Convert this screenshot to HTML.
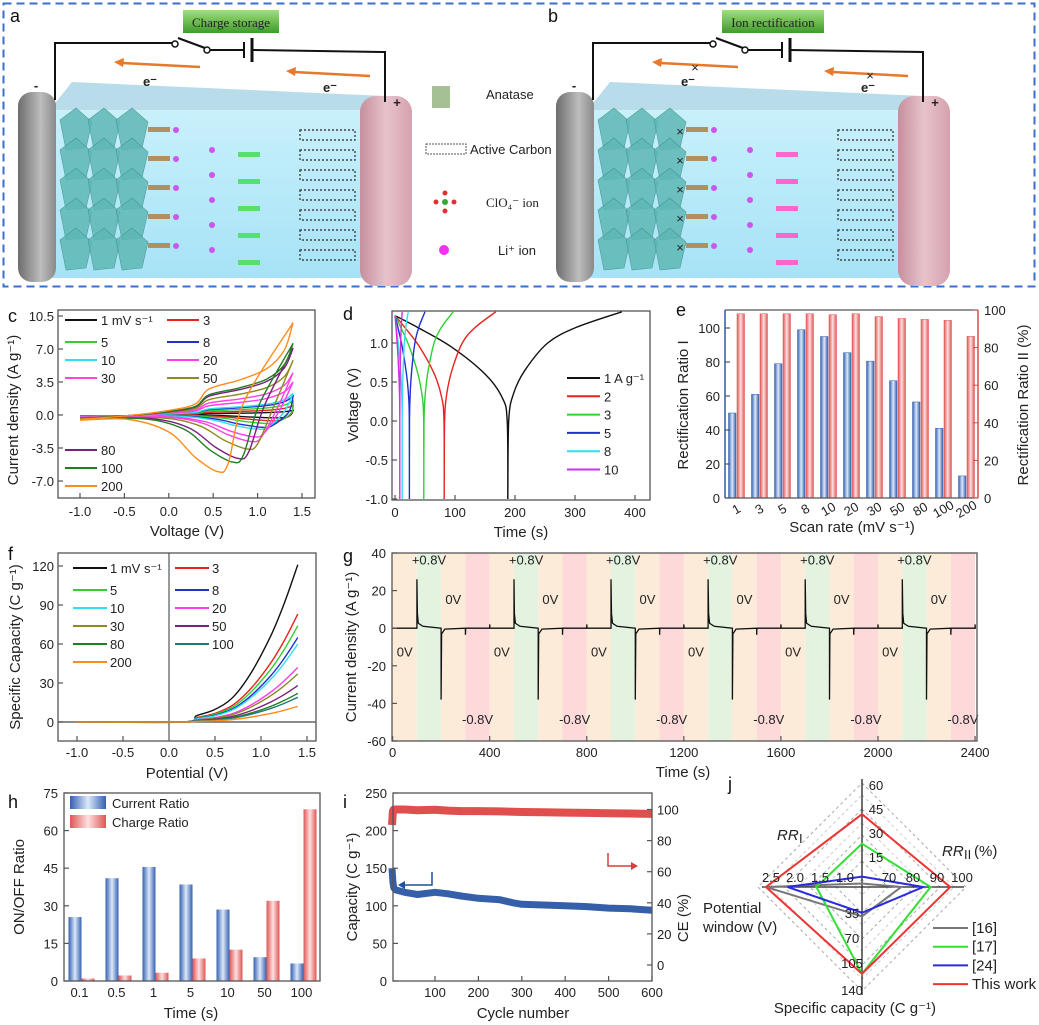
<!DOCTYPE html>
<html><head><meta charset="utf-8"><style>
html,body{margin:0;padding:0;background:#fff}
svg{display:block;font-family:"Liberation Sans",Arial,sans-serif}
.tk{font-size:13px;fill:#222}
.lt{font-size:18px;fill:#111}
.tt{font-size:15px;fill:#222}
</style></head><body>
<svg id="fig" width="1039" height="1025" viewBox="0 0 1039 1025" xmlns="http://www.w3.org/2000/svg">
<defs>
<linearGradient id="gBlue" x1="0" x2="1" y1="0" y2="0"><stop offset="0" stop-color="#3560b0"/><stop offset="0.5" stop-color="#dce8fa"/><stop offset="1" stop-color="#3560b0"/></linearGradient>
<linearGradient id="gRed" x1="0" x2="1" y1="0" y2="0"><stop offset="0" stop-color="#e05555"/><stop offset="0.5" stop-color="#fde0e0"/><stop offset="1" stop-color="#e05555"/></linearGradient>
<linearGradient id="gBody" x1="0" x2="0" y1="0" y2="1"><stop offset="0" stop-color="#c9f0fb"/><stop offset="1" stop-color="#a6e3f6"/></linearGradient>
<linearGradient id="gPink" x1="0" x2="1"><stop offset="0" stop-color="#c58f9c"/><stop offset="0.5" stop-color="#e8c3cc"/><stop offset="1" stop-color="#d4a2ae"/></linearGradient>
<linearGradient id="gGray" x1="0" x2="1"><stop offset="0" stop-color="#6d6d6d"/><stop offset="0.6" stop-color="#bdbdbd"/><stop offset="1" stop-color="#8a8a8a"/></linearGradient>
<linearGradient id="gBtn" x1="0" x2="0" y1="0" y2="1"><stop offset="0" stop-color="#9fe07a"/><stop offset="1" stop-color="#3f9a2c"/></linearGradient>
</defs>
<rect x="3.5" y="3.5" width="1031" height="283" fill="none" stroke="#3a6fd0" stroke-width="2" stroke-dasharray="8,5"/>
<g id="schem"></g>
<g id="pc"></g><g id="pd"></g><g id="pe"></g><g id="pf"></g><g id="pg"></g><g id="ph"></g><g id="pi"></g><g id="pj"></g>
</svg>
<script>
// ---------- data ----------
const cvRates=["1","3","5","8","10","20","30","50","80","100","200"];
const cvColors=["#111","#e8231f","#2fd02f","#1f2fd0","#30dff0","#ff3cf0","#ff44dd","#8b8b22","#7a1f7a","#1f7f1f","#ff8c1a"];
const cvMax=[0.5,1.0,1.5,2.0,2.3,3.5,4.5,5.8,7.1,7.6,9.8];
const cvMin=[-0.3,-0.6,-0.9,-1.3,-1.5,-2.3,-2.8,-3.6,-4.6,-5.0,-6.0];
const cvMinV=[1.2,1.15,1.1,1.05,1.0,0.95,0.92,0.88,0.78,0.72,0.55];
const gcdRates=["1 A g\u207B\u00B9","2","3","5","8","10"];
const gcdColors=["#111","#e8231f","#2fd02f","#1f2fd0","#30dff0","#d030e0"];
const gcdMinT=[188,82,48,24,12,8];
const gcdEndT=[378,168,97,50,22,12];
const rrCats=["1","3","5","8","10","20","30","50","80","100","200"];
const rrI=[50,61,79,99,95,85.5,80.5,69,56.5,41,13];
const rrII=[98,98,98,98,97.5,98,96.5,95.5,95,94.5,86];
const qRates=["1 mV s\u207B\u00B9","3","5","8","10","20","30","50","80","100","200"];
const qColors=["#111","#e8231f","#2fd02f","#1f2fd0","#30dff0","#ff3cf0","#8b8b22","#7a1f7a","#1f7f1f","#1f7a7a","#ff8c1a"];
const qEnd=[121,83,74,65,60,42,37,28,22,19,12];
const cycStart=[0,400,800,1200,1600,2000];
const posPeak=[26,26,26,26,26,26];
const negPeak=[-38,-38,-38,-38,-38,-38];
const hCats=["0.1","0.5","1","5","10","50","100"];
const hCurrent=[25.5,41,45.5,38.5,28.5,9.5,7];
const hCharge=[1,2.2,3.3,9,12.5,32,68.5];
const iCycles=[1,3,5,10,30,60,100,130,160,200,250,280,300,350,400,450,500,550,600];
const iCap=[150,132,124,121,118,115,118,116,113,110,108,104,102,101,100,99,97,96,94];
const iCE=[90,99,100,100,100,99.5,99.8,99.3,99,99,98.8,98.5,98.4,98.2,98,97.8,97.6,97.4,97.2];
const rNames=["[16]","[17]","[24]","This work"];
const rColors=["#777","#33e033","#2a2ae0","#ee3333"];
const rRR1=[2,25,6,42];
const rRR2=[76,88,85,96];
const rCap=[40,118,35,118];
const rPW=[2.5,1.45,2.05,2.5];

const NS="http://www.w3.org/2000/svg";
function mk(tag,parent,a){const e=document.createElementNS(NS,tag);for(const k in a)e.setAttribute(k,a[k]);parent.appendChild(e);return e;}
function tx(parent,x,y,s,cls,anchor,extra){const e=mk("text",parent,Object.assign({x:x,y:y,class:cls||"tk","text-anchor":anchor||"middle"},extra||{}));e.textContent=s;return e;}
function smooth(pts){let d="M"+pts[0][0].toFixed(1)+","+pts[0][1].toFixed(1);for(let i=1;i<pts.length;i++){const p0=pts[Math.max(0,i-2)],p1=pts[i-1],p2=pts[i],p3=pts[Math.min(pts.length-1,i+1)];const c1=[p1[0]+(p2[0]-p0[0])/6,p1[1]+(p2[1]-p0[1])/6],c2=[p2[0]-(p3[0]-p1[0])/6,p2[1]-(p3[1]-p1[1])/6];d+="C"+c1.map(v=>v.toFixed(1))+" "+c2.map(v=>v.toFixed(1))+" "+p2[0].toFixed(1)+","+p2[1].toFixed(1);}return d;}
function frame(g,x0,y0,x1,y1,name){const r=mk("rect",g,{x:x0,y:y0,width:x1-x0,height:y1-y0,fill:"none",stroke:"#555","stroke-width":1.3});}
function tick(g,x1,y1,x2,y2){mk("line",g,{x1:x1,y1:y1,x2:x2,y2:y2,stroke:"#555","stroke-width":1.2});}

// ---------- schematic ----------
(function(){
const s=document.getElementById("schem");
function battery(ox,rect){
 const g=mk("g",s,{transform:"translate("+ox+",0)"});
 
 
 mk("polygon",g,{points:"48,112 72,82 385,96 398,112",fill:"#b9dceb"});
 mk("rect",g,{x:48,y:110,width:352,height:168,fill:"url(#gBody)"});
 mk("rect",g,{x:18,y:92,width:38,height:190,rx:14,fill:"url(#gGray)"});
 mk("rect",g,{x:360,y:96,width:52,height:190,rx:16,fill:"url(#gPink)"});
 for(let r=0;r<5;r++)for(let c=0;c<3;c++)mk("polygon",g,{points:(60+c*28)+","+(120+r*30)+" "+(76+c*28)+","+(108+r*30)+" "+(92+c*28)+","+(122+r*30)+" "+(86+c*28)+","+(148+r*30)+" "+(66+c*28)+","+(150+r*30),fill:"#5fb8b5",opacity:0.85,stroke:"#3e8f8c","stroke-width":0.6});
 for(let r=0;r<7;r++)mk("rect",g,{x:300,y:130+r*20,width:55,height:10,fill:"none",stroke:"#444","stroke-dasharray":"2,2","stroke-width":1.4});
 mk("polyline",g,{points:"55,100 55,43 172,43",fill:"none",stroke:"#111","stroke-width":2});
 mk("circle",g,{cx:175,cy:44,r:3,fill:"#fff",stroke:"#111","stroke-width":1.5});
 mk("line",g,{x1:178,y1:38,x2:205,y2:48,stroke:"#111","stroke-width":2});
 mk("circle",g,{cx:207,cy:50,r:3,fill:"#fff",stroke:"#111","stroke-width":1.5});
 mk("line",g,{x1:210,y1:50,x2:243,y2:50,stroke:"#111","stroke-width":2});
 mk("line",g,{x1:244,y1:42,x2:244,y2:58,stroke:"#111","stroke-width":2});
 mk("line",g,{x1:252,y1:38,x2:252,y2:62,stroke:"#111","stroke-width":3});
 mk("polyline",g,{points:"252,50 385,52 385,102",fill:"none",stroke:"#111","stroke-width":2});
 mk("line",g,{x1:200,y1:67,x2:122,y2:63,stroke:"#e8782a","stroke-width":2.5});
 mk("polygon",g,{points:"114,62 124,58 123,67",fill:"#e8782a"});
 mk("line",g,{x1:370,y1:76,x2:294,y2:72,stroke:"#e8782a","stroke-width":2.5});
 mk("polygon",g,{points:"286,71 296,67 295,76",fill:"#e8782a"});
 if(rect){tx(g,157,72,"\u00D7","tk","middle",{"font-size":"22",fill:"#555"});tx(g,332,80,"\u00D7","tk","middle",{"font-size":"22",fill:"#555"});
  for(let r=0;r<5;r++)tx(g,142,136+r*29,"\u00D7","tk","middle",{"font-size":"14"});}
 tx(g,150,86,"e\u207B","tk","middle",{"font-weight":"bold"});tx(g,330,92,"e\u207B","tk","middle",{"font-weight":"bold"});
 tx(g,36,90,"-","tk","middle",{"font-size":"22","font-weight":"bold"});tx(g,397,107,"+","tk","middle",{"font-size":"18","font-weight":"bold"});
 for(let r=0;r<5;r++){mk("rect",g,{x:148,y:127+r*29,width:22,height:5,fill:"#b09060"});mk("rect",g,{x:238,y:152+r*27,width:22,height:5,fill:rect?"#ff66cc":"#55e070"});
  mk("circle",g,{cx:176,cy:130+r*29,r:3,fill:"#cc55ee"});mk("circle",g,{cx:212,cy:150+r*25,r:3,fill:"#cc55ee"});}
}
battery(0,false);battery(538,true);
tx(s,10,22,"a","lt","start");tx(s,548,22,"b","lt","start");
const b1=mk("rect",s,{x:183,y:10,width:96,height:23,fill:"url(#gBtn)"});
tx(s,231,27,"Charge storage","tk","middle",{fill:"#fff","font-family":"Liberation Serif,serif","font-size":"13"});
const b2=mk("rect",s,{x:722,y:10,width:102,height:23,fill:"url(#gBtn)"});
tx(s,773,27,"Ion rectification","tk","middle",{fill:"#fff","font-family":"Liberation Serif,serif","font-size":"13"});
mk("rect",s,{x:432,y:86,width:18,height:22,fill:"#8fb07a",opacity:0.8});
mk("rect",s,{x:426,y:144,width:40,height:10,fill:"none",stroke:"#555","stroke-dasharray":"2,1"});
mk("circle",s,{cx:445,cy:202,r:3,fill:"#33aa33"});mk("circle",s,{cx:436,cy:202,r:2.5,fill:"#e03030"});mk("circle",s,{cx:454,cy:202,r:2.5,fill:"#e03030"});mk("circle",s,{cx:445,cy:193,r:2.5,fill:"#e03030"});mk("circle",s,{cx:445,cy:211,r:2.5,fill:"#e03030"});
mk("circle",s,{cx:444,cy:250,r:5,fill:"#ee33ee"});
tx(s,486,99,"Anatase","tk","start");tx(s,470,154,"Active Carbon","tk","start");
tx(s,486,207,"ClO\u2084\u207B  ion","tk","start",{"font-family":"Liberation Serif,serif"});tx(s,498,255,"Li\u207A ion","tk","start");
})();

// ---------- c: CV ----------
(function(){
const g=document.getElementById("pc");
const X=v=>80+(v+1)*88.8, Y=i=>415-i*9.43;
frame(g,58,310,315,498,"cv-plot-frame");
[-1,-0.5,0,0.5,1,1.5].forEach(v=>{tick(g,X(v),498,X(v),493);tx(g,X(v),516,v.toFixed(1));});
[-7,-3.5,0,3.5,7,10.5].forEach(v=>{tick(g,58,Y(v),63,Y(v));tx(g,54,Y(v)+5,v.toFixed(1),"tk","end");});
tx(g,8,322,"c","lt","start");
tx(g,187,536,"Voltage (V)","tt");
tx(g,0,0,"Current density (A g\u207B\u00B9)","tt","middle",{transform:"translate(18,410) rotate(-90)"});
cvRates.forEach((r,k)=>{
 const M=cvMax[k],m=cvMin[k],mv=cvMinV[k];
 const an=[[-1,-0.4*Math.abs(m)/6-0.05],[-0.5,-0.1],[0,0.05*M],[0.3,0.12*M],[0.45,0.28*M],[0.8,0.38*M],[1.1,0.5*M],[1.3,0.7*M],[1.4,M]];
 const ca=[[1.4,M],[Math.min(1.38,mv+0.3),0.15*M],[mv+0.12,0.85*m],[mv,m],[mv-0.25,0.75*m],[mv-0.55,0.3*m],[Math.max(-0.9,mv-1),0.08*m],[-1,-0.4*Math.abs(m)/6-0.15]];
 const p=mk("path",g,{d:smooth(an.map(q=>[X(q[0]),Y(q[1])]))+smooth(ca.map(q=>[X(q[0]),Y(q[1])])).replace("M","L"),fill:"none",stroke:cvColors[k],"stroke-width":1.4});
 
 
});
const rows=[[0,65,320],[1,167,320],[2,65,342],[3,167,342],[4,65,360],[5,167,360],[6,65,378],[7,167,378],[8,65,450],[9,65,468],[10,65,486]];
rows.forEach(([k,x,y])=>{mk("line",g,{x1:x,y1:y,x2:x+32,y2:y,stroke:cvColors[k],"stroke-width":2});
 const t=tx(g,x+36,y+5,k==0?"1 mV s\u207B\u00B9":cvRates[k],"tk","start");});
})();

// ---------- d: GCD ----------
(function(){
const g=document.getElementById("pd");
const X=t=>395+t*0.6, Y=v=>421-v*78;
frame(g,392,311,650,500,"gcd-plot-frame");
[0,100,200,300,400].forEach(v=>{tick(g,X(v),500,X(v),495);tx(g,X(v),517,String(v));});
[-1,-0.5,0,0.5,1].forEach(v=>{tick(g,392,Y(v),397,Y(v));tx(g,388,Y(v)+5,v.toFixed(1),"tk","end");});
tx(g,343,320,"d","lt","start");
tx(g,521,537,"Time (s)","tt");
tx(g,0,0,"Voltage (V)","tt","middle",{transform:"translate(358,405) rotate(-90)"});
const dis=[[0,1.35],[0.2,1.2],[0.5,0.95],[0.8,0.6],[0.95,0.3],[0.995,0],[1,-1]];
const chg=[[0,-1],[0.008,0],[0.05,0.35],[0.15,0.65],[0.35,1.0],[0.6,1.2],[1,1.4]];
gcdRates.forEach((r,k)=>{
 const a=gcdMinT[k],b=gcdEndT[k];
 const p1=dis.map(q=>[X(q[0]*a),Y(q[1])]),p2=chg.map(q=>[X(a+q[0]*(b-a)),Y(q[1])]);
 const p=mk("path",g,{d:smooth(p1)+smooth(p2).replace("M","L"),fill:"none",stroke:gcdColors[k],"stroke-width":1.4});
 
 
 mk("line",g,{x1:567,y1:378+k*18.3,x2:600,y2:378+k*18.3,stroke:gcdColors[k],"stroke-width":2});
 tx(g,604,383+k*18.3,r,"tk","start");
});
})();

// ---------- e: rectification ----------
(function(){
const g=document.getElementById("pe");
const YL=v=>498-v*1.7, YR=p=>498-p*1.88, C=i=>736.5+i*23;
rrCats.forEach((c,i)=>{
 const b=mk("rect",g,{x:C(i)-8,y:YL(rrI[i]),width:7.5,height:498-YL(rrI[i]),fill:"url(#gBlue)",stroke:"#3560b0","stroke-width":0.5});
 
 
 const r=mk("rect",g,{x:C(i)+0.5,y:YR(rrII[i]),width:7.5,height:498-YR(rrII[i]),fill:"url(#gRed)",stroke:"#e05555","stroke-width":0.5});
 
 
 tx(g,0,0,c,"tk","middle",{transform:"translate("+(C(i)+2)+",513) rotate(-30)"});
});
mk("line",g,{x1:725,y1:310,x2:978,y2:310,stroke:"#555","stroke-width":1.3});
mk("line",g,{x1:725,y1:498,x2:978,y2:498,stroke:"#555","stroke-width":1.3});
mk("line",g,{x1:725,y1:310,x2:725,y2:498,stroke:"#2d5ca8","stroke-width":1.5});
mk("line",g,{x1:978,y1:310,x2:978,y2:498,stroke:"#e04848","stroke-width":1.5});
[0,20,40,60,80,100].forEach(v=>{tick(g,725,YL(v),730,YL(v));tx(g,720,YL(v)+5,String(v),"tk","end",{fill:"#2d5ca8"});
 mk("line",g,{x1:973,y1:YR(v),x2:978,y2:YR(v),stroke:"#e04848"});tx(g,984,YR(v)+5,String(v),"tk","start",{fill:"#e04848"});});
tx(g,676,316,"e","lt","start");
tx(g,852,532,"Scan rate (mV s\u207B\u00B9)","tt");
tx(g,0,0,"Rectification Ratio I","tt","middle",{transform:"translate(688,405) rotate(-90)",fill:"#2d5ca8"});
tx(g,0,0,"Rectification Ratio II (%)","tt","middle",{transform:"translate(1028,405) rotate(-90)",fill:"#e04848"});
})();

// ---------- f: capacity ----------
(function(){
const g=document.getElementById("pf");
const X=v=>169+v*92, Y=q=>722-q*1.3;
frame(g,58,553,316,741,"capacity-plot-frame");
mk("line",g,{x1:X(0),y1:553,x2:X(0),y2:741,stroke:"#333"});
mk("line",g,{x1:58,y1:Y(0),x2:316,y2:Y(0),stroke:"#666","stroke-width":1.5});
[-1,-0.5,0,0.5,1,1.5].forEach(v=>{tick(g,X(v),741,X(v),736);tx(g,X(v),757,v.toFixed(1));});
[0,30,60,90,120].forEach(v=>{tick(g,58,Y(v),63,Y(v));tx(g,54,Y(v)+5,String(v),"tk","end");});
tx(g,8,560,"f","lt","start");
tx(g,187,778,"Potential (V)","tt");
tx(g,0,0,"Specific Capacity (C g\u207B\u00B9)","tt","middle",{transform:"translate(20,647) rotate(-90)"});
const shp=[[-1,0],[0.15,0],[0.3,0.04],[0.5,0.08],[0.7,0.16],[0.9,0.32],[1.1,0.54],[1.25,0.75],[1.4,1]];
qRates.forEach((r,k)=>{
 const p=mk("path",g,{d:smooth(shp.map(q=>[X(q[0]),Y(q[1]*qEnd[k])])),fill:"none",stroke:qColors[k],"stroke-width":1.4});
 
 
});
const rows=[[0,73,568],[1,175,568],[2,73,590],[3,175,590],[4,73,608],[5,175,608],[6,73,626],[7,175,626],[8,73,644],[9,175,644],[10,73,662]];
rows.forEach(([k,x,y])=>{mk("line",g,{x1:x,y1:y,x2:x+34,y2:y,stroke:qColors[k],"stroke-width":2});tx(g,x+37,y+5,qRates[k],"tk","start");});
})();

// ---------- g: pulses ----------
(function(){
const g=document.getElementById("pg");
const X=t=>392.6+t*0.2427, Y=c=>553+(40-c)*1.88;
const phaseCol=["#fdebd9","#e3f3df","#fdebd9","#fdd9da"];
cycStart.forEach(t0=>{[0,100,200,300].forEach((o,j)=>{mk("rect",g,{x:X(t0+o),y:553,width:X(100)-X(0),height:188,fill:phaseCol[j]});});});
let pts=[[X(0),Y(0)]];
cycStart.forEach((t0,k)=>{
 pts.push([X(t0+100),Y(0)],[X(t0+100),Y(posPeak[k])],[X(t0+102),Y(posPeak[k]*0.3)],[X(t0+106),Y(posPeak[k]*0.1)],[X(t0+125),Y(1)],[X(t0+200),Y(0)]);
 pts.push([X(t0+200),Y(negPeak[k])],[X(t0+202),Y(negPeak[k]*0.08)],[X(t0+215),Y(-0.5)],[X(t0+300),Y(0)],[X(t0+300),Y(-3.5)],[X(t0+301),Y(0)],[X(t0+400),Y(0)],[X(t0+400),Y(2)],[X(t0+401),Y(0)]);
});
pts.push([X(2400),Y(0)]);
const ln=mk("polyline",g,{points:pts.map(p=>p[0].toFixed(1)+","+p[1].toFixed(1)).join(" "),fill:"none",stroke:"#111","stroke-width":1.3});


cycStart.forEach(t0=>{
 tx(g,X(t0+150),Y(34),"+0.8V","tk","middle",{fill:"#1f8f1f","font-size":"14"});
 tx(g,X(t0+250),Y(13),"0V","tk","middle",{"font-size":"14"});
 tx(g,X(t0+50),Y(-15),"0V","tk","middle",{"font-size":"14"});
 tx(g,X(t0+350),Y(-51),"-0.8V","tk","middle",{fill:"#e04848","font-size":"14"});
});
frame(g,392,553,977,741,"pulse-plot-frame");
[0,400,800,1200,1600,2000,2400].forEach(v=>{tick(g,X(v),741,X(v),736);tx(g,X(v),757,String(v));});
[40,20,0,-20,-40,-60].forEach(v=>{tick(g,392,Y(v),397,Y(v));tx(g,386,Y(v)+5,String(v),"tk","end");});
tx(g,343,562,"g","lt","start");
tx(g,683,777,"Time (s)","tt");
tx(g,0,0,"Current density (A g\u207B\u00B9)","tt","middle",{transform:"translate(356,647) rotate(-90)"});
})();

// ---------- h: on/off ----------
(function(){
const g=document.getElementById("ph");
const Y=v=>981-v*2.507, C=i=>81.5+i*37;
hCats.forEach((c,i)=>{
 const b=mk("rect",g,{x:C(i)-13,y:Y(hCurrent[i]),width:13,height:981-Y(hCurrent[i]),fill:"url(#gBlue)"});
 
 
 const r=mk("rect",g,{x:C(i),y:Y(hCharge[i]),width:13,height:981-Y(hCharge[i]),fill:"url(#gRed)"});
 
 
 tx(g,C(i)-2,997,c);
});
frame(g,64,793,320,981,"onoff-plot-frame");
[0,15,30,45,60,75].forEach(v=>{tick(g,64,Y(v),69,Y(v));tx(g,58,Y(v)+5,String(v),"tk","end");});
tx(g,8,808,"h","lt","start");
tx(g,191,1018,"Time (s)","tt");
tx(g,0,0,"ON/OFF Ratio","tt","middle",{transform:"translate(24,887) rotate(-90)"});
mk("rect",g,{x:70,y:796,width:36,height:13,fill:"url(#gBlue)"});tx(g,112,808,"Current Ratio","tk","start");
mk("rect",g,{x:70,y:815,width:36,height:13,fill:"url(#gRed)"});tx(g,112,827,"Charge Ratio","tk","start");
})();

// ---------- i: cycling ----------
(function(){
const g=document.getElementById("pi");
const X=c=>391.6+c*0.434, YL=v=>981-v*0.752, YR=p=>965-p*1.555;
const cap=mk("polyline",g,{points:iCycles.map((c,k)=>X(c).toFixed(1)+","+YL(iCap[k]).toFixed(1)).join(" "),fill:"none",stroke:"#1f4fa0","stroke-width":7,"stroke-linejoin":"round",opacity:0.9});


const ce=mk("polyline",g,{points:iCycles.map((c,k)=>X(c).toFixed(1)+","+YR(iCE[k]).toFixed(1)).join(" "),fill:"none",stroke:"#dd3b3b","stroke-width":8,"stroke-linejoin":"round",opacity:0.9});


frame(g,393,793,652,981,"cycling-plot-frame");
[100,200,300,400,500,600].forEach(v=>{tick(g,X(v),981,X(v),976);tx(g,X(v),997,String(v));});
[0,50,100,150,200,250].forEach(v=>{tick(g,393,YL(v),398,YL(v));tx(g,387,YL(v)+5,String(v),"tk","end");});
[0,20,40,60,80,100].forEach(v=>{tick(g,647,YR(v),652,YR(v));tx(g,657,YR(v)+5,String(v),"tk","start");});
mk("polyline",g,{points:"432,872 432,885 400,885",fill:"none",stroke:"#1f4fa0","stroke-width":1.5});mk("polygon",g,{points:"398,885 405,881 405,889",fill:"#1f4fa0"});
mk("polyline",g,{points:"608,853 608,866 635,866",fill:"none",stroke:"#dd3b3b","stroke-width":1.5});mk("polygon",g,{points:"638,866 631,862 631,870",fill:"#dd3b3b"});
tx(g,343,808,"i","lt","start");
tx(g,523,1018,"Cycle number","tt");
tx(g,0,0,"Capacity (C g\u207B\u00B9)","tt","middle",{transform:"translate(357,887) rotate(-90)"});
tx(g,0,0,"CE (%)","tt","middle",{transform:"translate(688,918) rotate(-90)"});
})();

// ---------- j: radar ----------
(function(){
const g=document.getElementById("pj");
const cx=862,cy=887;
const up=v=>v/60*104, rt=v=>(v-60)/40*98, dn=v=>v/140*103, lf=v=>(v-0.5)/2*96;
[26,52,78,104].forEach(r=>{mk("polygon",g,{points:cx+","+(cy-r)+" "+(cx+r)+","+cy+" "+cx+","+(cy+r)+" "+(cx-r)+","+cy,fill:"none",stroke:"#aaa","stroke-dasharray":"3,3"});});
[8,38,64,92].forEach(r=>{mk("polygon",g,{points:cx+","+(cy-r)+" "+(cx+r)+","+cy+" "+cx+","+(cy+r)+" "+(cx-r)+","+cy,fill:"none",stroke:"#ccc","stroke-dasharray":"3,3"});});
mk("line",g,{x1:cx,y1:cy-108,x2:cx,y2:cy+108,stroke:"#222","stroke-width":1.3});
mk("line",g,{x1:cx-100,y1:cy,x2:cx+102,y2:cy,stroke:"#222","stroke-width":1.3});
rNames.forEach((n,k)=>{
 const p=mk("polygon",g,{points:cx+","+(cy-up(rRR1[k]))+" "+(cx+rt(rRR2[k]))+","+cy+" "+cx+","+(cy+dn(rCap[k]))+" "+(cx-lf(rPW[k]))+","+cy,fill:"none",stroke:rColors[k],"stroke-width":2});
 
 
 mk("line",g,{x1:933,y1:928+k*18.7,x2:968,y2:928+k*18.7,stroke:rColors[k],"stroke-width":2});
 const t=tx(g,972,933+k*18.7,n,"tt","start");
});
[[15,857],[30,833],[45,809],[60,785]].forEach(([v,y])=>tx(g,cx+14,y+5,String(v),"tk","middle"));
[["2.5",771],["2.0",795],["1.5",820],["1.0",845]].forEach(([v,x])=>tx(g,x,cy-5,v,"tk","middle"));
[["70",889],["80",913],["90",937],["100",962]].forEach(([v,x])=>tx(g,x,cy-5,v,"tk","middle"));
[["35",913],["70",938],["105",963],["140",990]].forEach(([v,y])=>tx(g,cx-10,y+5,v,"tk","middle"));
tx(g,728,790,"j","lt","start");
tx(g,777,840,"RR","tt","start",{"font-style":"italic"});tx(g,799,843,"I","tk","start",{"font-size":"9"});
tx(g,942,856,"RR","tt","start",{"font-style":"italic"});tx(g,964,859,"II","tk","start",{"font-size":"9"});tx(g,974,856,"(%)","tt","start");
tx(g,703,913,"Potential","tt","start");tx(g,703,932,"window (V)","tt","start");
tx(g,855,1013,"Specific capacity (C g\u207B\u00B9)","tt","middle");
})();
</script>
</body></html>
